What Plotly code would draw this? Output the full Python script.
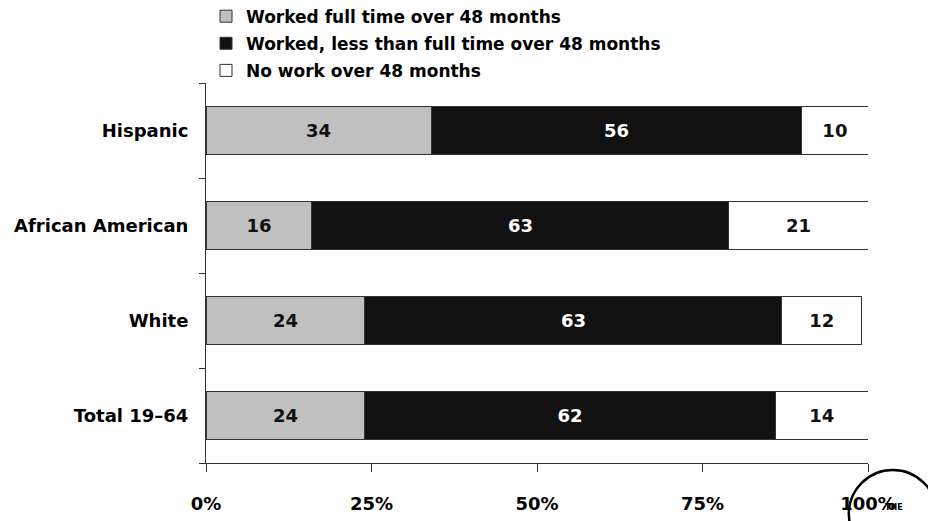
import plotly.graph_objects as go

categories = ["Hispanic", "African American", "White", "Total 19\u201364"]
full_time = [34, 16, 24, 24]
less_than_full = [56, 63, 63, 62]
no_work = [10, 21, 12, 14]
series_names = [
    "Worked full time over 48 months",
    "Worked, less than full time over 48 months",
    "No work over 48 months",
]
x_tickvals = [0, 25, 50, 75, 100]
x_ticktext = ["0%", "25%", "50%", "75%", "100%"]

FONT = "DejaVu Sans"
fig = go.Figure()
series = [
    (full_time, "#c0c0c0", "#111111"),
    (less_than_full, "#111111", "#ffffff"),
    (no_work, "#ffffff", "#111111"),
]
for i, (vals, col, tcol) in enumerate(series):
    fig.add_trace(go.Bar(
        y=categories, x=vals, orientation="h", name=series_names[i],
        marker=dict(color=col, line=dict(color="#333333", width=1)),
        text=[str(v) for v in vals], textposition="inside",
        insidetextanchor="middle",
        textfont=dict(family=FONT, size=18, color=tcol, weight="bold"),
        legendgroup=str(i),
    ))

fig.update_layout(
    barmode="stack", bargap=0.5,
    width=936, height=521,
    margin=dict(l=198, r=76, t=75, b=66, autoexpand=False),
    paper_bgcolor="white", plot_bgcolor="white",
    font=dict(family=FONT, size=18, color="black", weight="bold"),
    showlegend=True,
    legend=dict(
        x=0.0, y=1.222, xanchor="left", yanchor="top",
        traceorder="grouped", tracegroupgap=2,
        font=dict(family=FONT, size=17, color="black", weight="bold"),
        itemwidth=30, bgcolor="rgba(0,0,0,0)",
    ),
    uniformtext=dict(mode="show", minsize=10),
)
fig.update_xaxes(
    range=[0, 100], tickvals=x_tickvals, ticktext=x_ticktext,
    showgrid=False, zeroline=False, showline=True, linecolor="#333333", linewidth=1,
    ticks="outside", ticklen=8, tickcolor="#333333", ticklabelstandoff=16,
    tickfont=dict(family=FONT, size=18, color="black", weight="bold"),
)
fig.update_yaxes(
    categoryorder="array", categoryarray=categories[::-1],
    showgrid=False, showline=True, linecolor="#333333", linewidth=1,
    ticks="outside", ticklen=6, tickcolor="#333333", tickson="boundaries",
    ticklabelstandoff=13,
    tickfont=dict(family=FONT, size=18, color="black", weight="bold"),
)

# Decorative logo (partial, bottom-right)
fig.add_shape(type="circle", xref="paper", yref="paper",
              x0=0.971, x1=1.104, y0=-0.25, y1=-0.0184,
              line=dict(color="black", width=2.5), layer="below")
fig.add_annotation(xref="paper", yref="paper", x=1.056, y=-0.135, text="THE",
                   showarrow=False, font=dict(family=FONT, size=8, color="black", weight="bold"))

fig.write_html("out.html")
